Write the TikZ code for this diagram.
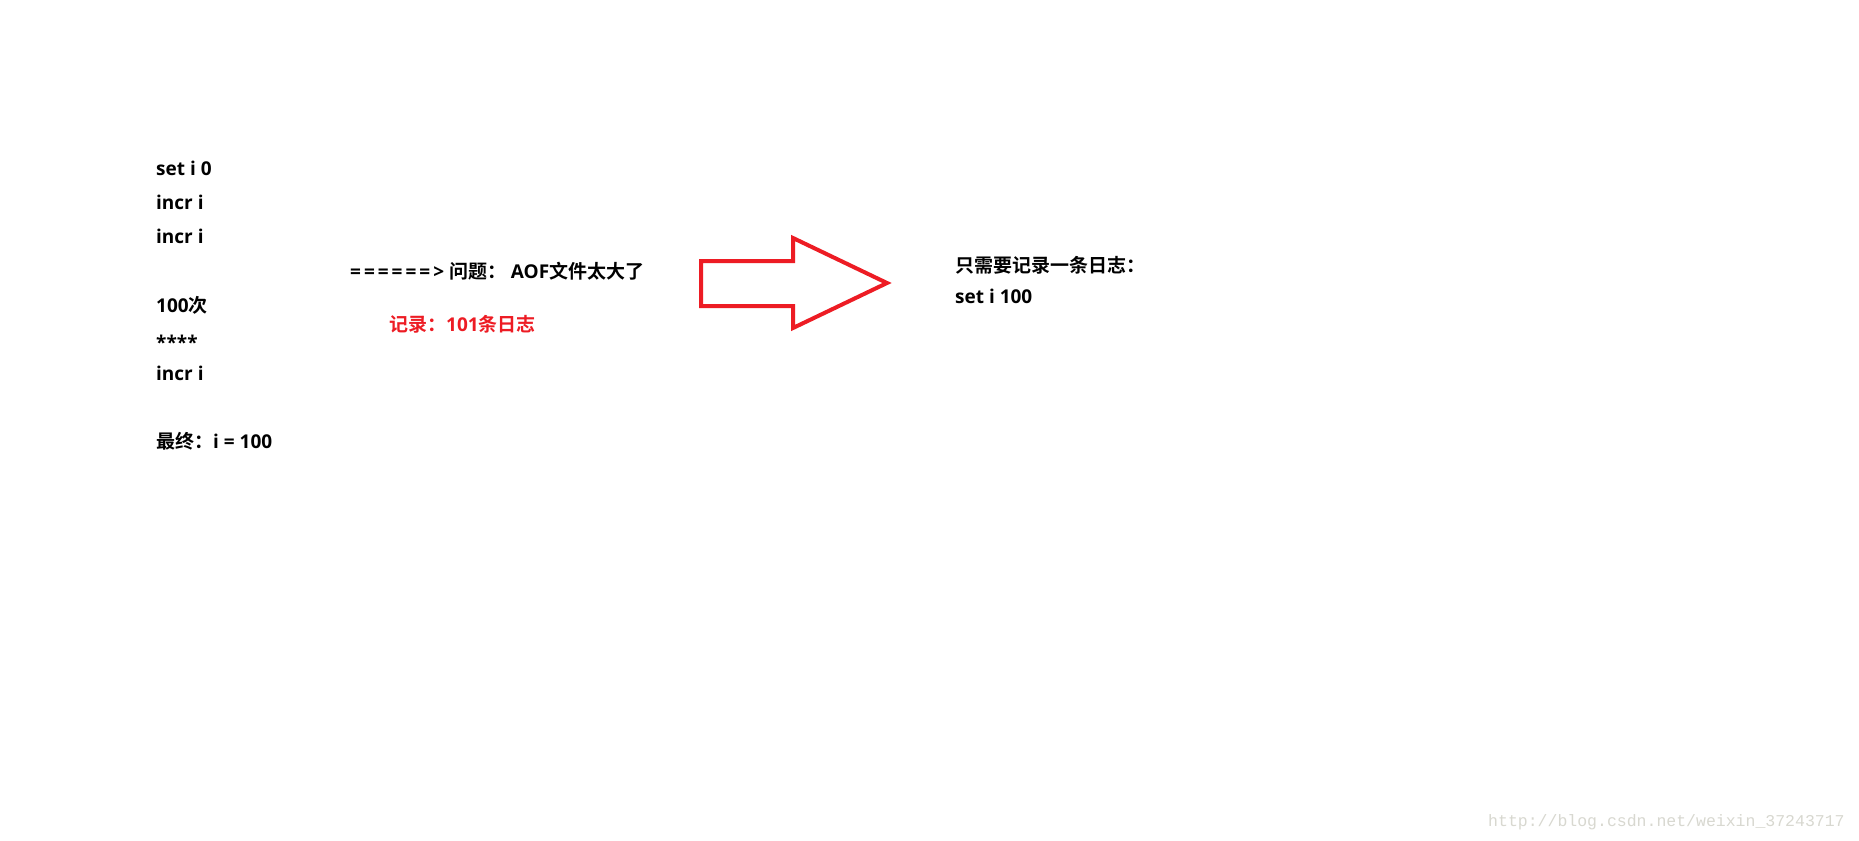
\documentclass[tikz,border=0pt]{standalone}
\usepackage{fontspec}
\setmainfont{Open Sans}
\newfontfamily\cjk{Noto Sans CJK SC}[BoldFont={* Bold}]
\newfontfamily\wmfont{Liberation Mono}
\definecolor{arrowred}{HTML}{ED1C24}
\definecolor{wmgray}{HTML}{D8D8D0}
\newcommand\eqk{=\kern3pt}
\begin{document}
\begin{tikzpicture}[x=1pt,y=-1pt,
  txt/.style={anchor=base west,inner sep=0pt,font=\fontsize{19}{19}\selectfont\bfseries},
  redtxt/.style={txt,text=arrowred},
  wm/.style={anchor=base west,inner sep=0pt,font=\wmfont\fontsize{16.5}{16.5}\selectfont,text=wmgray}]
\useasboundingbox[fill=white] (0,0) rectangle (1859,840);
\node[txt] (l1) at (156,175) {set i 0};
\node[txt] (l2) at (156,209) {incr i};
\node[txt] (l3) at (156,243.5) {incr i};
\node[txt] (l4) at (156,312) {100{\cjk 次}};
\node[txt] (l5) at (156,349) {****};
\node[txt] (l6) at (156,380) {incr i};
\node[txt] (l7) at (156,448) {{\cjk 最终：}i = 100};
\node[txt] (q) at (350,278) {\eqk\eqk\eqk\eqk\eqk\eqk> {\cjk 问题：} AOF{\cjk 文件太大了}};
\node[redtxt] (r) at (389,331) {{\cjk 记录：}101{\cjk 条日志}};
\draw[arrowred,line width=4pt,line join=miter]
  (701,261) -- (793,261) -- (793,238) -- (887,283) -- (793,328) -- (793,306) -- (701,306) -- cycle;
\node[txt] (s1) at (955,272) {\cjk 只需要记录一条日志：};
\node[txt] (s2) at (955,303) {set i 100};
\node[wm] (w) at (1488,826) {http://blog.csdn.net/weixin\_37243717};
\end{tikzpicture}
\end{document}
